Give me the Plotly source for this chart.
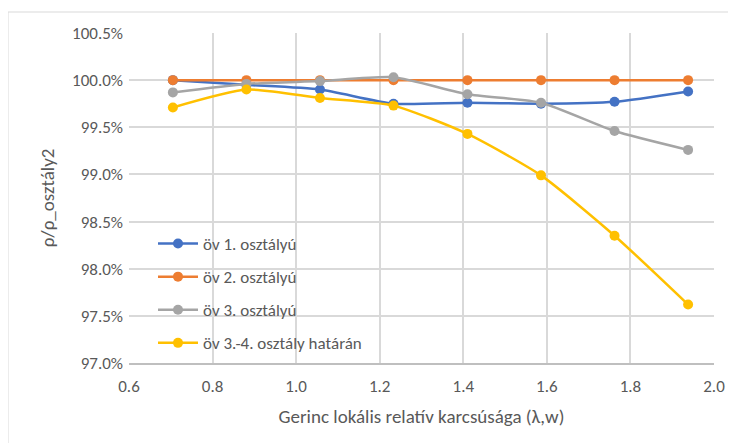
import plotly.graph_objects as go

x_vals = [0.705, 0.881, 1.057, 1.233, 1.410, 1.586, 1.762, 1.938]
ov1 = [100.00, 99.95, 99.90, 99.75, 99.76, 99.75, 99.77, 99.88]
ov2 = [100.00, 100.00, 100.00, 100.00, 100.00, 100.00, 100.00, 100.00]
ov3 = [99.87, 99.96, 99.99, 100.03, 99.85, 99.76, 99.46, 99.26]
ov34 = [99.71, 99.90, 99.81, 99.73, 99.43, 98.99, 98.35, 97.62]

names = ["öv 1. osztályú", "öv 2. osztályú", "öv 3. osztályú", "öv 3.-4. osztály határán"]
colors = ["#4472C4", "#ED7D31", "#A5A5A5", "#FFC000"]
series = [ov1, ov2, ov3, ov34]

FONT = "Carlito, Calibri, Lato, sans-serif"

fig = go.Figure()
for i, (nm, col, ys) in enumerate(zip(names, colors, series)):
    fig.add_trace(go.Scatter(
        x=x_vals, y=ys, name=nm, mode="lines+markers",
        line=dict(color=col, width=2.5, shape="spline", smoothing=0.6),
        marker=dict(color=col, size=10),
        legendgroup=f"g{i}",
    ))

# page body has an 8px margin: figure origin sits at window (8, 8)
OFF = 8
W, H = 736 - OFF, 443 - OFF
L, R, T, B = 129 - OFF, 22, 33 - OFF, 80
pw, ph = W - L - R, H - T - B

def px_x(p):  # window pixel -> paper
    return (p - OFF - L) / pw

def px_y(p):
    return (H - B - (p - OFF)) / ph

fig.add_shape(type="rect", xref="paper", yref="paper",
              x0=px_x(8), x1=px_x(760), y0=px_y(12), y1=px_y(470),
              line=dict(color="#D9D9D9", width=1), fillcolor="rgba(0,0,0,0)", layer="below")

fig.update_layout(
    width=W, height=H,
    margin=dict(l=L, r=R, t=T, b=B),
    paper_bgcolor="white", plot_bgcolor="white",
    font=dict(family=FONT, color="#595959", size=17),
    showlegend=True,
    legend=dict(x=px_x(153), y=px_y(226), xanchor="left", yanchor="top",
                bgcolor="rgba(0,0,0,0)", font=dict(size=17, color="#595959"),
                tracegroupgap=8, itemwidth=40),
    xaxis=dict(range=[0.6, 2.0], dtick=0.2, tick0=0.6, tickformat=".1f",
               showgrid=True, gridcolor="#D9D9D9", gridwidth=1.5,
               showline=True, linecolor="#BFBFBF", linewidth=1.5, mirror=False,
               zeroline=False, ticks="", tickfont=dict(size=17), ticklabelstandoff=7,
               title=dict(text="Gerinc lokális relatív karcsúsága (λ,w)", font=dict(size=19), standoff=14)),
    yaxis=dict(range=[97.0, 100.5], dtick=0.5, tick0=97.0, tickformat=".1f", ticksuffix="%",
               showgrid=True, gridcolor="#D9D9D9", gridwidth=1.5,
               showline=False, zeroline=False, ticks="", tickfont=dict(size=17), ticklabelstandoff=5,
               title=dict(text="ρ/ρ_osztály2", font=dict(size=19), standoff=12)),
)

fig.write_html("out.html")
